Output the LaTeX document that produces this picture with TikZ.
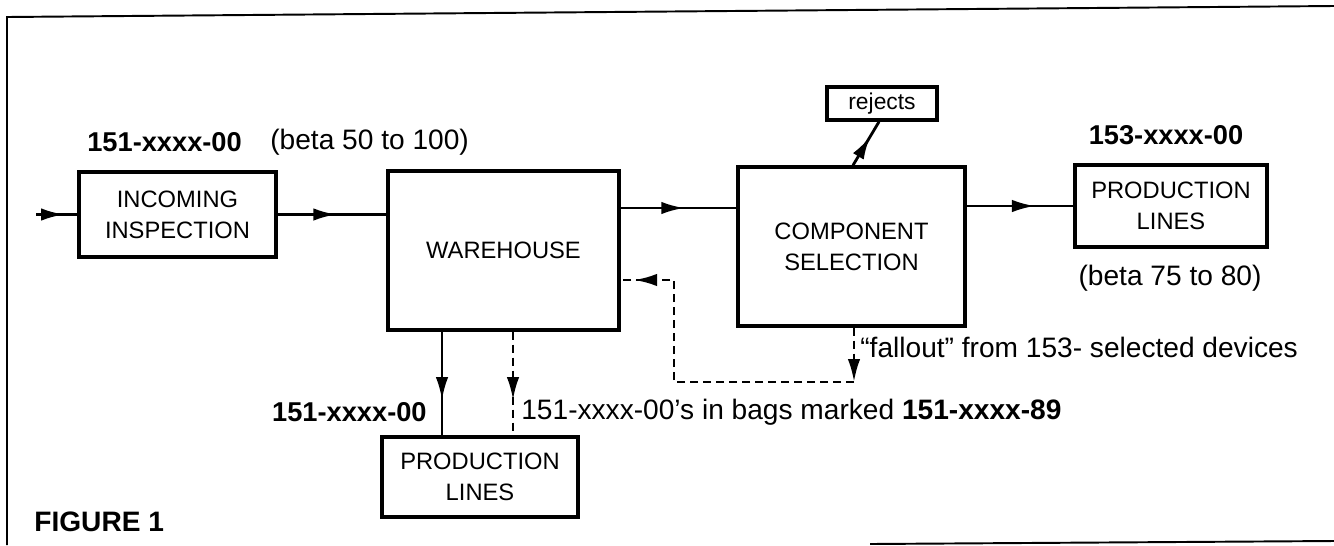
\documentclass[tikz,border=0pt]{standalone}
\usepackage{fontspec}
\setmainfont{Liberation Sans}
\usetikzlibrary{arrows.meta,decorations.markings,calc}
\begin{document}
\begin{tikzpicture}[x=0.02cm,y=-0.02cm,
  box/.style={draw, line width=2pt, align=center, inner sep=0pt, font=\fontsize{13.5}{17.5}\selectfont},
  conn/.style={line width=1.6pt},
  dsh/.style={conn, dash pattern=on 1.6mm off 1mm},
  tipat/.style={postaction={decorate,decoration={markings,mark=at position #1 with {\arrow{Latex[length=4.6mm,width=2.5mm]}}}}},
  endtip/.style={-{Latex[length=4.6mm,width=2.5mm]}},
  lbl/.style={font=\fontsize{16}{19}\selectfont, inner sep=0pt},
  blbl/.style={font=\bfseries\fontsize{15.5}{19}\selectfont, inner sep=0pt},
]
\useasboundingbox (0,0) rectangle (1334,545);

% frame
\draw[line width=1.1pt] (1334,6) -- (7,17) -- (7,545);
\draw[line width=1.1pt] (870,544) -- (1334,541);

% boxes
\node[box, minimum width=3.94cm, minimum height=1.7cm] (inc) at (177.5,214.5) {INCOMING\\INSPECTION};
\node[box, minimum width=4.62cm, minimum height=3.18cm] (wh) at (503.5,250.5) {WAREHOUSE};
\node[box, minimum width=4.54cm, minimum height=3.18cm] (cs) at (851.5,246.5) {COMPONENT\\SELECTION};
\node[box, minimum width=2.2cm, minimum height=0.66cm, font=\fontsize{13}{16}\selectfont] (rej) at (882,103.5) {rejects};
\node[box, minimum width=3.84cm, minimum height=1.64cm] (pl1) at (1171,206) {PRODUCTION\\LINES};
\node[box, minimum width=3.92cm, minimum height=1.6cm] (pl2) at (480,477) {PRODUCTION\\LINES};

% helper coordinates
\coordinate (start) at (36,214.5);
\coordinate (y208) at (0,208);
\coordinate (rx1) at (853,0);
\coordinate (rx2) at (879,0);
\coordinate (dx1) at (442,0);
\coordinate (dx2) at (513,0);
\coordinate (fx) at (854,0);
\coordinate (fb) at (854,382);
\coordinate (fc) at (674,382);
\coordinate (fd) at (674,280);

% connectors
\draw[conn, tipat=0.68] (start) -- (inc.west);
\draw[conn, tipat=0.54] (inc.east) -- (inc.east -| wh.west);
\draw[conn, tipat=0.55] (wh.east |- y208) -- (cs.west |- y208);
\draw[conn, tipat=0.64] (pl1.west -| cs.east) -- (pl1.west);
\draw[conn, tipat=0.66] (cs.north -| rx1) -- (rej.south -| rx2);
\draw[conn, tipat=0.66] (wh.south -| dx1) -- (pl2.north -| dx1);
\draw[dsh, tipat=0.66] (wh.south -| dx2) -- (pl2.north -| dx2);
\draw[dsh, endtip] (cs.south -| fx) -- (fb);
\draw[dsh, tipat=0.96] (fb) -- (fc) -- (fd) -- (wh.east |- fd);

% labels
\node[blbl, anchor=west] (t1) at (87,142) {151-xxxx-00};
\node[lbl, anchor=west] (t2) at (270,142) {(beta 50 to 100)};
\node[blbl] (t3) at (1166,135) {153-xxxx-00};
\node[lbl] (t4) at (1170,278) {(beta 75 to 80)};
\node[blbl, anchor=east] (t5) at (427,412) {151-xxxx-00};
\node[lbl, anchor=west] (t6) at (521,412) {151-xxxx-00's in bags marked \textbf{151-xxxx-89}};
\node[lbl, anchor=west] (t7) at (860,347) {``fallout'' from 153- selected devices};
\node[blbl, anchor=west, font=\bfseries\fontsize{16}{19}\selectfont] (fig) at (34,522) {FIGURE 1};
\end{tikzpicture}
\end{document}
